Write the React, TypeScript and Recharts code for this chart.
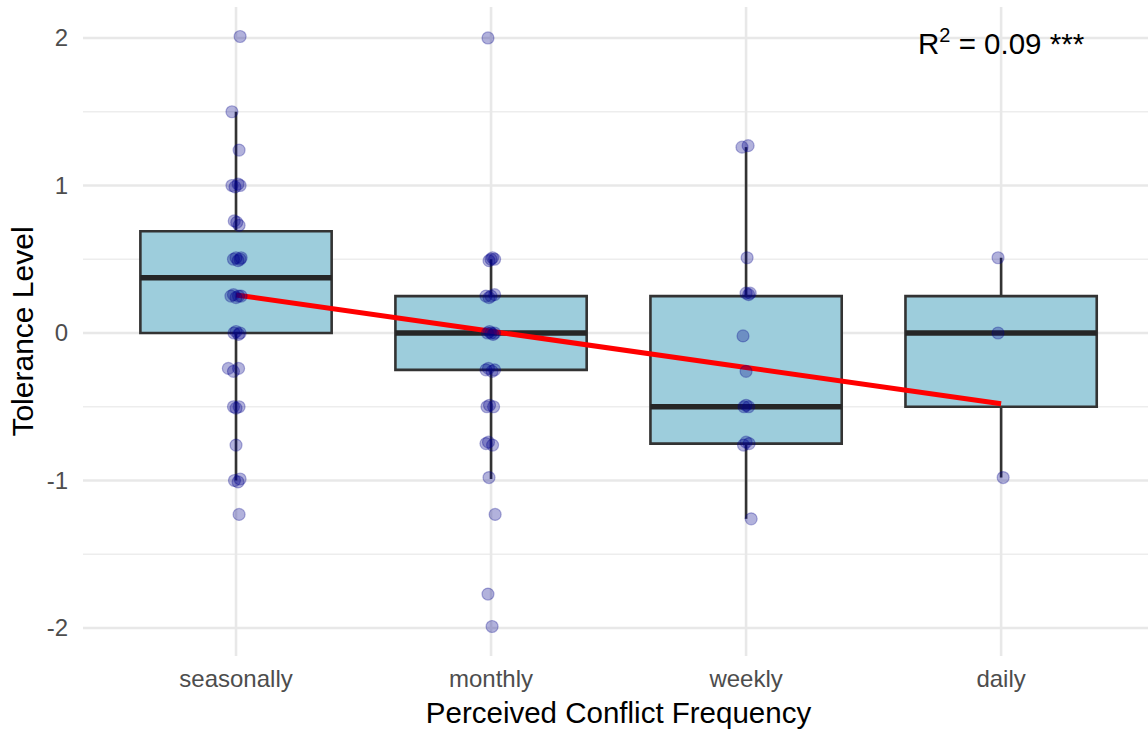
import React from 'react';
import {
  ComposedChart, XAxis, YAxis, CartesianGrid, Scatter, Line,
  ReferenceArea, ReferenceLine,
} from 'recharts';

const categories = ['seasonally', 'monthly', 'weekly', 'daily'];
const yTicks = [-2, -1, 0, 1, 2];
const yMinorTicks = [-1.5, -0.5, 0.5, 1.5];

// box statistics per category
const q1 = [0, -0.25, -0.75, -0.5];
const medians = [0.375, 0, -0.5, 0];
const q3 = [0.69, 0.25, 0.25, 0.25];
const whiskerLow = [-1.0, -0.99, -1.26, -0.98];
const whiskerHigh = [1.5, 0.5, 1.26, 0.51];

// regression fit at each category
const fitValues = [0.258, 0.012, -0.234, -0.48];

// jittered observations: j = horizontal jitter (category units), v = value
const seasonallyPoints = [
  { j: 0.016, v: 2.01 }, { j: -0.016, v: 1.5 }, { j: 0.012, v: 1.24 },
  { j: -0.016, v: 1.0 }, { j: -0.004, v: 0.99 }, { j: 0.008, v: 1.01 }, { j: 0.016, v: 1.0 },
  { j: -0.007, v: 0.76 }, { j: 0.003, v: 0.75 }, { j: 0.012, v: 0.73 },
  { j: -0.01, v: 0.5 }, { j: 0.0, v: 0.51 }, { j: 0.008, v: 0.49 }, { j: 0.016, v: 0.5 }, { j: 0.02, v: 0.51 },
  { j: -0.02, v: 0.25 }, { j: -0.01, v: 0.26 }, { j: 0.0, v: 0.24 }, { j: 0.01, v: 0.25 }, { j: 0.02, v: 0.25 },
  { j: -0.008, v: 0.0 }, { j: 0.0, v: 0.01 }, { j: 0.01, v: -0.01 }, { j: 0.016, v: 0.0 },
  { j: -0.03, v: -0.24 }, { j: -0.01, v: -0.26 }, { j: 0.01, v: -0.24 },
  { j: -0.01, v: -0.5 }, { j: 0.0, v: -0.51 }, { j: 0.012, v: -0.5 },
  { j: 0.0, v: -0.76 },
  { j: -0.006, v: -1.0 }, { j: 0.008, v: -1.01 }, { j: 0.016, v: -0.99 },
  { j: 0.012, v: -1.23 },
];
const monthlyPoints = [
  { j: -0.012, v: 2.0 },
  { j: -0.008, v: 0.49 }, { j: 0.0, v: 0.5 }, { j: 0.006, v: 0.51 }, { j: 0.014, v: 0.5 },
  { j: -0.02, v: 0.25 }, { j: -0.008, v: 0.24 }, { j: 0.0, v: 0.25 }, { j: 0.014, v: 0.26 },
  { j: -0.014, v: 0.0 }, { j: -0.006, v: 0.01 }, { j: 0.0, v: 0.0 }, { j: 0.008, v: -0.01 }, { j: 0.014, v: 0.0 },
  { j: -0.02, v: -0.25 }, { j: -0.01, v: -0.24 }, { j: 0.004, v: -0.26 }, { j: 0.014, v: -0.25 },
  { j: -0.016, v: -0.5 }, { j: -0.006, v: -0.49 }, { j: 0.01, v: -0.5 },
  { j: -0.02, v: -0.75 }, { j: -0.01, v: -0.74 }, { j: 0.006, v: -0.76 },
  { j: -0.008, v: -0.98 }, { j: 0.016, v: -1.23 }, { j: -0.012, v: -1.77 }, { j: 0.004, v: -1.99 },
];
const weeklyPoints = [
  { j: -0.016, v: 1.26 }, { j: 0.008, v: 1.27 },
  { j: 0.004, v: 0.51 },
  { j: 0.0, v: 0.27 }, { j: 0.01, v: 0.26 }, { j: 0.016, v: 0.27 },
  { j: -0.012, v: -0.02 },
  { j: 0.0, v: -0.26 },
  { j: -0.008, v: -0.5 }, { j: 0.0, v: -0.49 }, { j: 0.01, v: -0.5 },
  { j: -0.01, v: -0.76 }, { j: 0.0, v: -0.74 }, { j: 0.012, v: -0.75 },
  { j: 0.02, v: -1.26 },
];
const dailyPoints = [
  { j: -0.012, v: 0.51 }, { j: -0.012, v: 0.0 }, { j: 0.008, v: -0.98 },
];

const pointsByCategory = [seasonallyPoints, monthlyPoints, weeklyPoints, dailyPoints];
const allPoints = pointsByCategory.flatMap((pts, i) =>
  pts.map((p) => ({ x: i + 1 + p.j, y: p.v }))
);
const fitData = categories.map((c, i) => ({ x: i + 1, y: fitValues[i] }));
const annotationData = [{ x: 4, y: 2 }];

const FONT = '"Liberation Sans", Arial, Helvetica, sans-serif';
const HALF = 0.375;

const XTick = (props: any) => {
  const { x, y, payload } = props;
  return (
    <text x={x} y={y + 31} textAnchor="middle" fill="#4D4D4D" fontSize={24} fontFamily={FONT}>
      {categories[Math.round(payload.value) - 1]}
    </text>
  );
};

const YTick = (props: any) => {
  const { x, y, payload } = props;
  return (
    <text x={x - 15} y={y} textAnchor="end" dominantBaseline="central" fill="#4D4D4D" fontSize={24} fontFamily={FONT}>
      {payload.value}
    </text>
  );
};

const PointShape = (props: any) => {
  const { cx, cy } = props;
  return (
    <circle cx={cx} cy={cy} r={6} fill="#00008B" fillOpacity={0.3} stroke="#00008B" strokeOpacity={0.3} strokeWidth={1.2} />
  );
};

const AnnotationShape = (props: any) => {
  const { cx, cy } = props;
  return (
    <text x={cx} y={cy + 16} textAnchor="middle" fill="#000" fontSize={29.5} fontFamily={FONT}>
      R<tspan dy={-12} fontSize={20}>2</tspan><tspan dy={12}> = 0.09 ***</tspan>
    </text>
  );
};

const XTitle = (props: any) => {
  const vb = props.viewBox;
  return (
    <text x={vb.x + vb.width / 2 + 3} y={vb.y + 67} textAnchor="middle" fill="#000" fontSize={29.5} fontFamily={FONT}>
      Perceived Conflict Frequency
    </text>
  );
};

const YTitle = (props: any) => {
  const vb = props.viewBox;
  const cx = 33;
  const cy = vb.y + vb.height / 2;
  return (
    <text x={cx} y={cy} transform={`rotate(-90, ${cx}, ${cy})`} textAnchor="middle" fill="#000" fontSize={30} fontFamily={FONT}>
      Tolerance Level
    </text>
  );
};

export default function App() {
  return (
    <div style={{ position: 'absolute', left: 0, top: 0, width: 1148, height: 730, overflow: 'hidden', background: '#fff' }}>
      <ComposedChart width={1148} height={730} margin={{ top: 7, right: 0, bottom: 0, left: 0 }}>
        <CartesianGrid horizontalValues={yMinorTicks} vertical={false} stroke="#EDEDED" strokeWidth={1.5} />
        <CartesianGrid horizontalValues={yTicks} verticalValues={[1, 2, 3, 4]} stroke="#E8E8E8" strokeWidth={2.6} />
        <XAxis
          type="number"
          dataKey="x"
          domain={[0.4, 4.576]}
          ticks={[1, 2, 3, 4]}
          allowDataOverflow
          axisLine={false}
          tickLine={false}
          tickSize={0}
          tickMargin={0}
          height={74}
          interval={0}
          tick={<XTick />}
          label={{ content: <XTitle /> } as any}
        />
        <YAxis
          type="number"
          dataKey="y"
          domain={[-2.19, 2.21]}
          ticks={yTicks}
          allowDataOverflow
          axisLine={false}
          tickLine={false}
          tickSize={0}
          tickMargin={0}
          width={83}
          interval={0}
          tick={<YTick />}
          label={{ content: <YTitle /> } as any}
        />
        {categories.map((c, i) => (
          <ReferenceLine
            key={`wl-${c}`}
            segment={[{ x: i + 1, y: whiskerLow[i] }, { x: i + 1, y: q1[i] }]}
            stroke="#333333"
            strokeWidth={2.6}
          />
        ))}
        {categories.map((c, i) => (
          <ReferenceLine
            key={`wh-${c}`}
            segment={[{ x: i + 1, y: q3[i] }, { x: i + 1, y: whiskerHigh[i] }]}
            stroke="#333333"
            strokeWidth={2.6}
          />
        ))}
        {categories.map((c, i) => (
          <ReferenceArea
            key={`box-${c}`}
            x1={i + 1 - HALF}
            x2={i + 1 + HALF}
            y1={q1[i]}
            y2={q3[i]}
            fill="#9DCDDC"
            fillOpacity={1}
            stroke="#333333"
            strokeWidth={2.6}
          />
        ))}
        {categories.map((c, i) => (
          <ReferenceLine
            key={`med-${c}`}
            segment={[{ x: i + 1 - HALF, y: medians[i] }, { x: i + 1 + HALF, y: medians[i] }]}
            stroke="#262626"
            strokeWidth={5.5}
          />
        ))}
        <Scatter data={allPoints} shape={<PointShape />} isAnimationActive={false} />
        <Line data={fitData} dataKey="y" type="linear" stroke="#FF0000" strokeWidth={5} dot={false} activeDot={false} isAnimationActive={false} />
        <Scatter data={annotationData} shape={<AnnotationShape />} isAnimationActive={false} />
      </ComposedChart>
    </div>
  );
}
